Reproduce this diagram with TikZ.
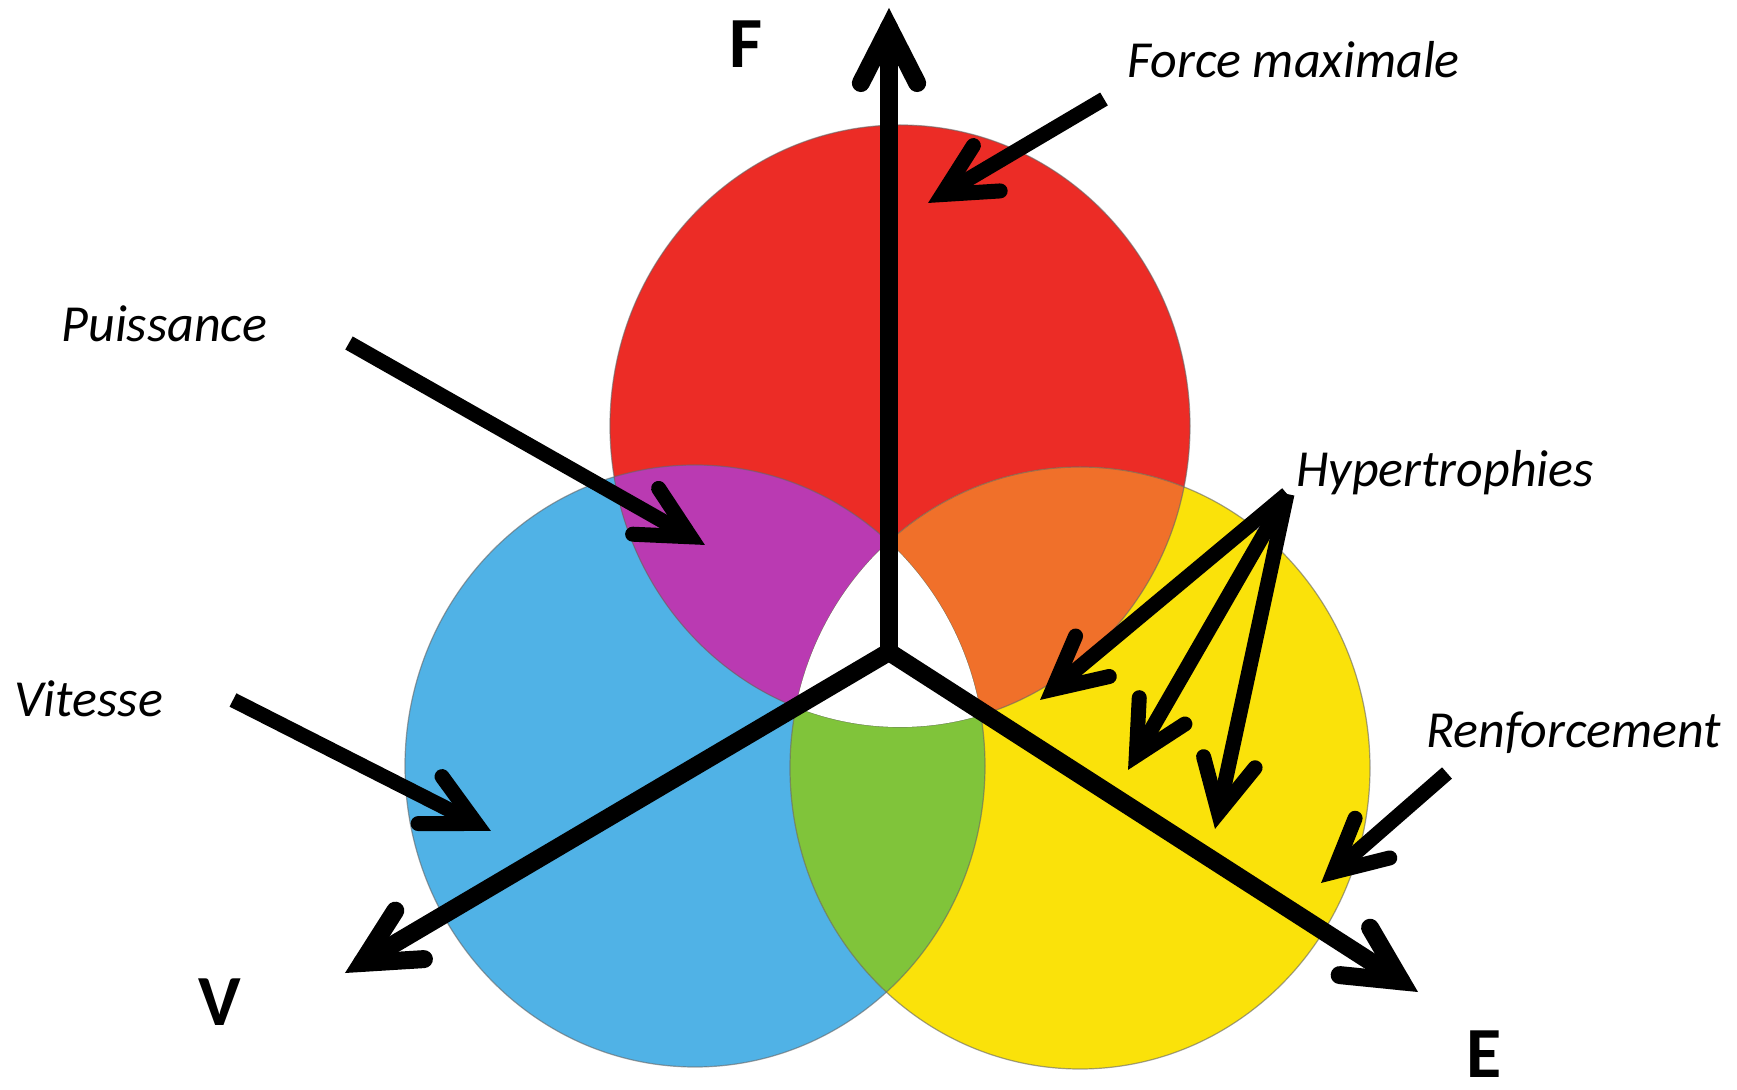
\documentclass[tikz,border=0pt]{standalone}
\usepackage{fontspec}
\setmainfont{Carlito}
\usetikzlibrary{calc}
\definecolor{redc}{RGB}{236,44,38}
\definecolor{bluec}{RGB}{80,178,230}
\definecolor{yelc}{RGB}{250,226,10}
\definecolor{purp}{RGB}{186,58,178}
\definecolor{orng}{RGB}{240,112,42}
\definecolor{grn}{RGB}{128,196,58}
\newcommand{\myChev}[4]{%
  \draw[line width=#4, line cap=round, line join=miter] ($(#1)!#3!27:(#2)$) -- (#1) -- ($(#1)!#3!-27:(#2)$);}
\tikzset{
  ell/.style={x radius=145pt, y radius=150.5pt},
  axisln/.style={line width=9pt, line cap=round},
  annln/.style={line width=7.5pt, line cap=butt},
  lab/.style={anchor=base west, inner sep=0pt, font=\fontsize{26pt}{30pt}\selectfont\itshape},
  axlab/.style={anchor=base, inner sep=0pt, font=\fontsize{36pt}{40pt}\selectfont\bfseries},
  rim/.style={draw=black!60, line width=0.6pt, opacity=0.6}
}
\begin{document}
\begin{tikzpicture}[x=0.5pt, y=-0.5pt]
\useasboundingbox (0,0) rectangle (1737,1090);
% circle centres
\coordinate (Rc) at (900,426);
\coordinate (Bc) at (695,766);
\coordinate (Yc) at (1080,768);
% single fills
\fill[bluec] (Bc) ellipse [ell];
\fill[redc] (Rc) ellipse [ell];
\fill[yelc] (Yc) ellipse [ell];
% pairwise overlaps
\begin{scope}
  \clip (Rc) ellipse [ell];
  \fill[purp] (Bc) ellipse [ell];
  \fill[orng] (Yc) ellipse [ell];
\end{scope}
\begin{scope}
  \clip (Bc) ellipse [ell];
  \fill[grn] (Yc) ellipse [ell];
\end{scope}
% outlines
\draw[rim] (Bc) ellipse [ell];
\draw[rim] (Rc) ellipse [ell];
\draw[rim] (Yc) ellipse [ell];
% triple overlap left white
\begin{scope}
  \clip (Rc) ellipse [ell];
  \clip (Bc) ellipse [ell];
  \fill[white] (Yc) ellipse [ell];
\end{scope}

% axes
\coordinate (O) at (889,652);
\coordinate (FtipV) at (889,8);
\coordinate (VtipV) at (345,973);
\coordinate (EtipV) at (1418,992);
\coordinate (Fv) at ($(FtipV)!9.9pt!(O)$);
\coordinate (Vv) at ($(VtipV)!9.9pt!(O)$);
\coordinate (Ev) at ($(EtipV)!9.9pt!(O)$);
\draw[axisln] (O) -- (Fv);
\draw[axisln] (O) -- (Vv);
\draw[axisln] (O) -- (Ev);
\myChev{Fv}{O}{31pt}{9pt}
\myChev{Vv}{O}{31pt}{9pt}
\myChev{Ev}{O}{31pt}{9pt}

% labels
\node[axlab] (tF) at (746,68) {F};
\node[axlab] (tV) at (220,1026) {V};
\node[axlab] (tE) at (1484,1078) {E};
\node[lab] (tForce) at (1127,78) {Force maximale};
\node[lab] (tPuis) at (61,342) {Puissance};
\node[lab] (tVit) at (14,717) {Vitesse};
\node[lab] (tHyp) at (1296,487) {Hypertrophies};
\node[lab] (tRenf) at (1426,748) {Renforcement};

% annotation arrows
\coordinate (fS) at (1104,99);   \coordinate (fT) at (928,203);
\coordinate (pS) at (349,343);   \coordinate (pT) at (705,545);
\coordinate (vS) at (233,700);   \coordinate (vT) at (491,831);
\coordinate (hS) at (1287,494);
\coordinate (h1T) at (1040,700);
\coordinate (h2T) at (1128,770);
\coordinate (h3T) at (1215,829);
\coordinate (rS) at (1447,773);  \coordinate (rT) at (1321,883);
\foreach \s/\t in {fS/fT, pS/pT, vS/vT, hS/h1T, hS/h2T, hS/h3T, rS/rT}{
  \coordinate (tv) at ($(\t)!8.3pt!(\s)$);
  \draw[annln] (\s) -- (tv);
  \myChev{tv}{\s}{29pt}{7.5pt}
}
\end{tikzpicture}
\end{document}
